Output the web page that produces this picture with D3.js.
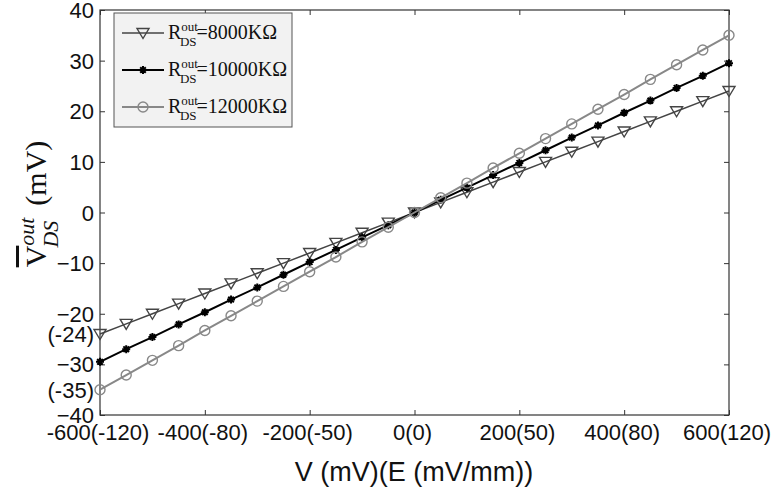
<!DOCTYPE html>
<html><head><meta charset="utf-8">
<script src="https://cdn.jsdelivr.net/npm/d3@7"></script>
<style>
html,body{margin:0;padding:0;background:#fff;}
svg{display:block;}
</style></head>
<body>
<svg id="chart" width="774" height="489"></svg>
<script>
// ---- data ----
const voltages = [-600,-550,-500,-450,-400,-350,-300,-250,-200,-150,-100,-50,0,50,100,150,200,250,300,350,400,450,500,550,600];
const r8000  = [-24,-22,-20,-18,-16,-14,-12,-10,-8,-6,-4,-2,0,2,4,6,8,10,12,14,16,18,20,22,24];
const r10000 = [-29.5,-27,-24.6,-22.1,-19.7,-17.2,-14.8,-12.3,-9.8,-7.4,-4.9,-2.5,0,2.5,4.9,7.4,9.8,12.3,14.8,17.2,19.7,22.1,24.6,27,29.5];
const r12000 = [-35,-32.1,-29.2,-26.3,-23.3,-20.4,-17.5,-14.6,-11.7,-8.8,-5.8,-2.9,0,2.9,5.8,8.8,11.7,14.6,17.5,20.4,23.3,26.3,29.2,32.1,35];
const xTicks = [-600,-400,-200,0,200,400,600];
const xTickLabels = ["-600(-120)","-400(-80)","-200(-50)","0(0)","200(50)","400(80)","600(120)"];
const yTicks = [-40,-30,-20,-10,0,10,20,30,40];
const yExtraTicks = [-24,-35];
const yExtraLabels = ["(-24)","(-35)"];
const seriesNames = ["8000","10000","12000"];

const svg = d3.select("#chart");
const L = 100, R = 729, T = 10, B = 415;
const x = d3.scaleLinear().domain([-600,600]).range([L,R]);
const y = d3.scaleLinear().domain([-40,40]).range([B,T]);
const sans = "'Liberation Sans', Arial, sans-serif";
const serif = "'Liberation Serif', 'Times New Roman', serif";

// frame
svg.append("rect").attr("x",L).attr("y",T).attr("width",R-L).attr("height",B-T)
  .attr("fill","none").attr("stroke","#333").attr("stroke-width",1.2);

// inward ticks via axes
const tl = 5;
svg.append("g").attr("transform",`translate(0,${B})`)
  .call(d3.axisTop(x).tickValues(xTicks).tickSize(tl).tickFormat(""))
  .call(g=>{g.select(".domain").remove(); g.selectAll("line").attr("stroke","#333");});
svg.append("g").attr("transform",`translate(0,${T})`)
  .call(d3.axisBottom(x).tickValues(xTicks).tickSize(tl).tickFormat(""))
  .call(g=>{g.select(".domain").remove(); g.selectAll("line").attr("stroke","#333");});
svg.append("g").attr("transform",`translate(${L},0)`)
  .call(d3.axisRight(y).tickValues(yTicks).tickSize(tl).tickFormat(""))
  .call(g=>{g.select(".domain").remove(); g.selectAll("line").attr("stroke","#333");});
svg.append("g").attr("transform",`translate(${R},0)`)
  .call(d3.axisLeft(y).tickValues(yTicks).tickSize(tl).tickFormat(""))
  .call(g=>{g.select(".domain").remove(); g.selectAll("line").attr("stroke","#333");});

// tick labels
svg.append("g").selectAll("text").data(xTicks).join("text")
  .attr("x",d=>x(d)-2).attr("y",440).attr("text-anchor","middle")
  .style("font-family",sans).style("font-size","22px").attr("fill","#111")
  .text((d,i)=>xTickLabels[i]);
svg.append("g").selectAll("text").data(yTicks).join("text")
  .attr("x",94).attr("y",d=>y(d)+8).attr("text-anchor","end")
  .style("font-family",sans).style("font-size","22px").attr("fill","#111")
  .text(d=>d3.format("d")(d));
svg.append("g").selectAll("text").data(yExtraTicks).join("text")
  .attr("x",94).attr("y",d=>y(d)+8).attr("text-anchor","end")
  .style("font-family",sans).style("font-size","22px").attr("fill","#111")
  .text((d,i)=>yExtraLabels[i]);

// axis titles
svg.append("text").attr("x",414).attr("y",481).attr("text-anchor","middle")
  .style("font-family",sans).style("font-size","27px").attr("fill","#111")
  .text("V (mV)(E (mV/mm))");

const yt = svg.append("text").attr("transform","translate(46,204) rotate(-90)")
  .attr("text-anchor","middle").style("font-family",serif).style("font-size","30px").attr("fill","#111");
yt.append("tspan").text("V").style("text-decoration","overline");
yt.append("tspan").attr("dy",-12).style("font-size","22px").style("font-style","italic").text("out");
yt.append("tspan").attr("dx",-30).attr("dy",24).style("font-size","22px").style("font-style","italic").text("DS");
yt.append("tspan").attr("dy",-12).text("\u2002(mV)");

// series
const colors = ["#444","#000","#888"];
const widths = [1.6,2,2];
const datas = [r8000, r10000, r12000];
const line = d3.line().x(d=>x(d[0])).y(d=>y(d[1]));

function drawMarker(g, k, cx, cy){
  if(k===0){
    g.append("path").attr("d",`M${cx-6},${cy-4.5} L${cx+6},${cy-4.5} L${cx},${cy+5.5} Z`)
      .attr("fill","none").attr("stroke",colors[0]).attr("stroke-width",1.4);
  } else if(k===1){
    const r=4;
    g.append("path").attr("d",`M${cx-r},${cy}L${cx+r},${cy}M${cx},${cy-r}L${cx},${cy+r}M${cx-r*0.7},${cy-r*0.7}L${cx+r*0.7},${cy+r*0.7}M${cx-r*0.7},${cy+r*0.7}L${cx+r*0.7},${cy-r*0.7}`)
      .attr("stroke","#000").attr("stroke-width",2).attr("fill","none");
  } else {
    g.append("circle").attr("cx",cx).attr("cy",cy).attr("r",5)
      .attr("fill","none").attr("stroke",colors[2]).attr("stroke-width",1.4);
  }
}

datas.forEach((arr,k)=>{
  const pts = voltages.map((v,i)=>[v,arr[i]]);
  svg.append("path").datum(pts).attr("d",line).attr("fill","none")
    .attr("stroke",colors[k]).attr("stroke-width",widths[k]);
  const g = svg.append("g");
  pts.forEach(p=>drawMarker(g,k,x(p[0]),y(p[1])));
});

// legend
const lg = svg.append("g");
lg.append("rect").attr("x",114).attr("y",13).attr("width",178).attr("height",114)
  .attr("fill","#f2f2f2").attr("stroke","#555").attr("stroke-width",1);
const rowY = [33,70,107];
seriesNames.forEach((nm,k)=>{
  const yy = rowY[k];
  lg.append("line").attr("x1",122).attr("x2",164).attr("y1",yy).attr("y2",yy)
    .attr("stroke",colors[k]).attr("stroke-width",widths[k]);
  drawMarker(lg,k,143,yy);
  const t = lg.append("text").attr("x",168).attr("y",yy+6)
    .style("font-family",serif).style("font-size","20px").attr("fill","#111");
  t.append("tspan").text("R");
  t.append("tspan").attr("dy",-8).style("font-size","13px").text("out");
  t.append("tspan").attr("dx",-18).attr("dy",15).style("font-size","13px").text("DS");
  t.append("tspan").attr("dy",-7).text("="+nm+"K\u03A9");
});
</script>
</body></html>
